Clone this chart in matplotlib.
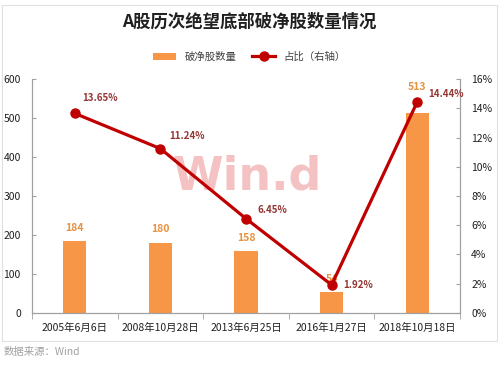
import matplotlib
matplotlib.use("Agg")
import matplotlib.pyplot as plt
from matplotlib.patches import Rectangle

plt.rcParams['font.family'] = ['Noto Sans CJK SC', 'DejaVu Sans']

# --- data ---
dates = ["2005年6月6日", "2008年10月28日", "2013年6月25日", "2016年1月27日", "2018年10月18日"]
counts = [184, 180, 158, 54, 513]
ratios = [13.65, 11.24, 6.45, 1.92, 14.44]

bar_color = '#F79646'
line_color = '#C00000'
ratio_label_color = '#943634'
text_color = '#404040'

fig = plt.figure(figsize=(4.99, 3.65), dpi=100)
ax = fig.add_axes([0.064, 0.1425, 0.858, 0.641])
ax2 = ax.twinx()

x = range(len(dates))
bars = ax.bar(x, counts, width=0.27, color=bar_color, zorder=2)
ax.set_xlim(-0.5, len(dates) - 0.5)
ax.set_ylim(0, 600)
ax.set_yticks(range(0, 601, 100))
ax.set_xticks(list(x))
ax.set_xticklabels(dates)
# category separators on the x axis
ax.set_xticks([i + 0.5 for i in range(-1, len(dates))], minor=True)
ax.tick_params(axis='x', which='major', length=0, labelsize=7.5, pad=7, colors='#202020')
ax.tick_params(axis='x', which='minor', length=4, direction='out', color='#A0A0A0')
ax.tick_params(axis='y', length=3, direction='in', labelsize=7.5, colors='#202020', pad=8)

line, = ax2.plot(x, ratios, color=line_color, lw=2.3, marker='o', ms=6.5, zorder=3)
ax2.set_ylim(0, 16)
ax2.set_yticks(range(0, 17, 2))
ax2.set_yticklabels([f"{v}%" for v in range(0, 17, 2)])
ax2.tick_params(axis='y', length=3, direction='in', labelsize=7.5, colors='#202020', pad=8)

for a in (ax, ax2):
    a.spines['top'].set_visible(False)
    for s in ('left', 'right', 'bottom'):
        a.spines[s].set_color('#A0A0A0')
        a.spines[s].set_linewidth(0.8)
ax.tick_params(axis='y', color='#A0A0A0')
ax2.tick_params(axis='y', color='#A0A0A0')

# watermark, behind the line (ax is drawn before ax2)
ax.text(0.495, 0.515, "Win.d", fontsize=33, fontweight='bold', color='#F0A8A8',
        alpha=0.7, ha='center', va='center', family='DejaVu Sans', zorder=1,
        transform=fig.transFigure)

# bar value labels (last one sits above the marker)
bar_offsets = [6, 6, 6, 6, 15]
for i, v in enumerate(counts):
    ax.annotate(str(v), (i, v), xytext=(0, bar_offsets[i]), textcoords='offset points',
                ha='center', va='bottom', fontsize=7.5, fontweight='bold',
                color='#E8913F', zorder=1)

# ratio labels
offsets = [(18, 11), (19, 9), (19, 6), (19, 0), (21, 6)]
for i, v in enumerate(ratios):
    ax2.annotate(f"{v:.2f}%", (i, v), xytext=offsets[i], textcoords='offset points',
                 ha='center', va='center', fontsize=7, fontweight='bold',
                 color=ratio_label_color)

fig.text(0.5, 0.94, "A股历次绝望底部破净股数量情况", ha='center', va='center',
         fontsize=12.5, fontweight='bold', color='#202020')

fig.legend([bars, line], ["破净股数量", "占比（右轴）"], loc='center',
           bbox_to_anchor=(0.5, 0.844), ncol=2, frameon=False, fontsize=7.5,
           handlelength=2.2, columnspacing=1.5, labelcolor=text_color)

fig.text(0.008, 0.035, "数据来源：Wind", fontsize=7.5, color='#A0A0A0', va='center')

fig.patches.append(Rectangle((0.004, 0.065), 0.992, 0.92, transform=fig.transFigure,
                             fill=False, edgecolor='#E0E0E0', lw=0.8))

fig.savefig("out.png", dpi=100)
